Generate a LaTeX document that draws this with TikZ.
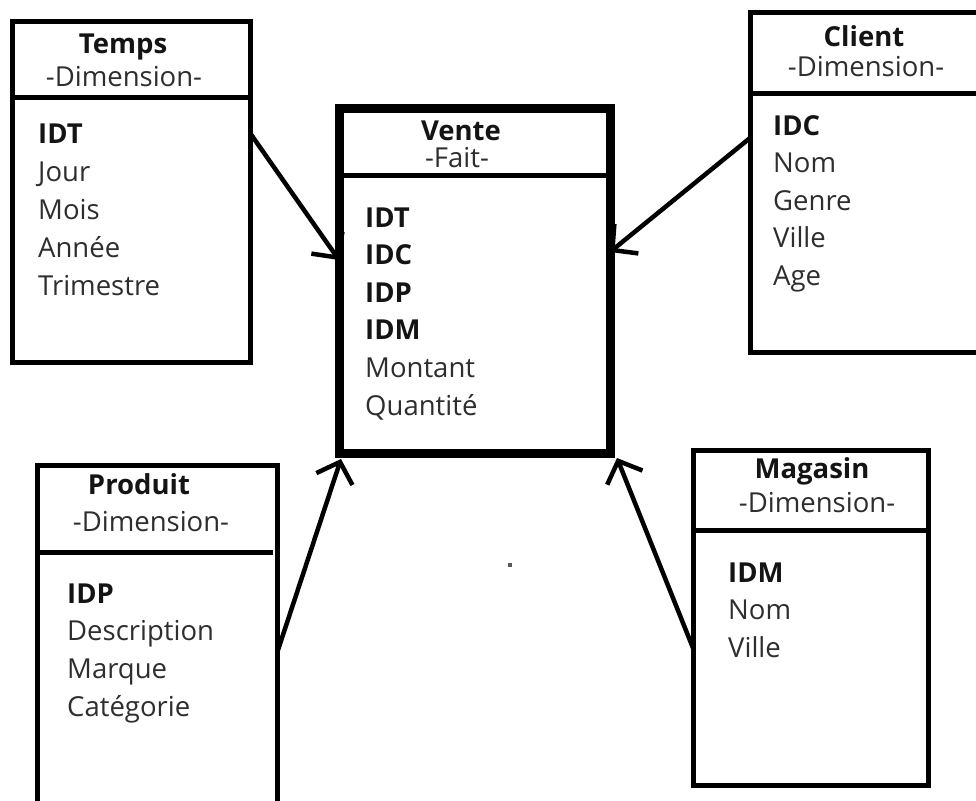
\documentclass[tikz,border=0pt]{standalone}
\usepackage{fontspec}
\setmainfont{Open Sans}
\usetikzlibrary{arrows.meta}
\begin{document}
\begin{tikzpicture}[x=1pt,y=-1pt,
  dimbox/.style={draw=black, line width=5pt, rectangle, inner sep=0pt, outer sep=0pt, anchor=north west},
  factbox/.style={dimbox, line width=9pt},
  divider/.style={line width=5pt},
  txt/.style={inner sep=0pt, font=\fontsize{27.5}{32}\selectfont},
  title/.style={txt, font=\fontsize{27.5}{32}\selectfont\bfseries, text=black!92, anchor=base},
  kind/.style={txt, text=black!82, anchor=base},
  key/.style={txt, font=\fontsize{27.5}{32}\selectfont\bfseries, text=black!92, anchor=base west},
  attr/.style={txt, text=black!82, anchor=base west},
  link/.style={line width=4.5pt, -{Straight Barb[length=18pt,width=38pt]}}
]
\useasboundingbox (0,0) rectangle (976,800);
\fill[white] (0,0) rectangle (976,800);

% ---- Temps (dimension)
\node[dimbox, minimum width=238pt, minimum height=340pt] (temps) at (12,22) {};
\draw[divider] (temps.west |- 0,97) -- (temps.east |- 0,97);
\node[title] (temps-title) at (123,53) {Temps};
\node[kind] (temps-kind) at (124,86) {-Dimension-};
\node[key] (temps-key) at (38,143) {IDT};
\foreach \a [count=\i] in {Jour,Mois,Année,Trimestre}
  \node[attr] (temps-attr-\i) at (38,143+38*\i) {\a};

% ---- Client (dimension)
\node[dimbox, minimum width=232pt, minimum height=339pt] (client) at (750,13) {};
\draw[divider] (client.west |- 0,93) -- (client.east |- 0,93);
\node[title] (client-title) at (864,47) {Client};
\node[kind] (client-kind) at (866,77) {-Dimension-};
\node[key] (client-key) at (773,135) {IDC};
\foreach \a [count=\i] in {Nom,Genre,Ville,Age}
  \node[attr] (client-attr-\i) at (773,135+37.5*\i) {\a};

% ---- Vente (fact)
\node[factbox, minimum width=271pt, minimum height=345pt] (vente) at (339,108) {};
\draw[divider] (vente.west |- 0,175) -- (vente.east |- 0,175);
\node[title] (vente-title) at (461,140) {Vente};
\node[kind] (vente-kind) at (457,167) {-Fait-};
\foreach \a [count=\i from 0] in {IDT,IDC,IDP,IDM}
  \node[key] (vente-key-\i) at (365,227+37.6*\i) {\a};
\foreach \a [count=\i from 4] in {Montant,Quantité}
  \node[attr] (vente-attr-\i) at (365,227+37.6*\i) {\a};

% ---- Produit (dimension)
\node[dimbox, minimum width=240pt, minimum height=360pt] (produit) at (37,465) {};
\draw[divider] (produit.west |- 0,552) -- (273,552);
\node[title] (produit-title) at (139,494) {Produit};
\node[kind] (produit-kind) at (151,531) {-Dimension-};
\node[key] (produit-key) at (67,603) {IDP};
\foreach \a [count=\i] in {Description,Marque,Catégorie}
  \node[attr] (produit-attr-\i) at (67,603+37.7*\i) {\a};

% ---- Magasin (dimension)
\node[dimbox, minimum width=235pt, minimum height=335pt] (magasin) at (693,450) {};
\draw[divider] (magasin.west |- 0,530) -- (magasin.east |- 0,530);
\node[title] (magasin-title) at (812,478) {Magasin};
\node[kind] (magasin-kind) at (817,512) {-Dimension-};
\node[key] (magasin-key) at (728,582) {IDM};
\foreach \a [count=\i] in {Nom,Ville}
  \node[attr] (magasin-attr-\i) at (728,582+37.5*\i) {\a};

% ---- links from the dimensions to the fact table
\draw[link] ([yshift=-111pt]temps.north east) -- ([yshift=-152pt]vente.north west);
\draw[link] ([yshift=-125pt]client.north west) -- ([yshift=-144pt]vente.north east);
\draw[link] ([yshift=-188pt]produit.north east) -- ([shift={(2pt,-6pt)}]vente.south west);
\draw[link] ([yshift=-198pt]magasin.north west) -- ([shift={(7pt,-5pt)}]vente.south east);

% small speck below the fact table
\fill[black!65] (508,563) rectangle (512,567);
\end{tikzpicture}
\end{document}
